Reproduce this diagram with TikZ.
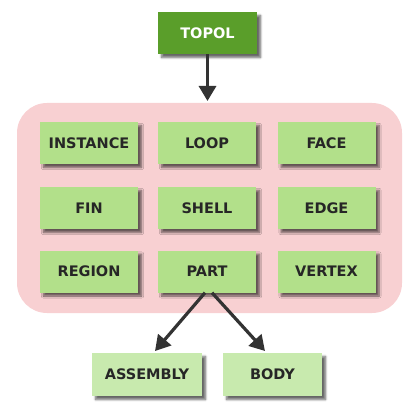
\documentclass[tikz,border=0pt]{standalone}
\usepackage{fontspec}
\setmainfont{DejaVu Sans}
\usetikzlibrary{arrows.meta,shadows.blur}
\definecolor{boxgreen}{HTML}{B2E08A}
\definecolor{palegreen}{HTML}{C8EAAE}
\definecolor{darkgreen}{HTML}{5A9E2A}
\definecolor{pinkbg}{HTML}{F8D0D2}
\definecolor{arrowgray}{HTML}{333333}
\tikzset{
  item/.style={fill=boxgreen, minimum width=98pt, minimum height=42pt, inner sep=0pt,
    font=\fontsize{14.5pt}{15pt}\selectfont\bfseries, text=black!85,
    blur shadow={shadow xshift=3.5pt, shadow yshift=-3.5pt, shadow blur steps=6, shadow opacity=60}},
  outitem/.style={item, fill=palegreen},
  topitem/.style={item, fill=darkgreen, text=white},
  link/.style={draw=arrowgray, line width=3.2pt, -{Triangle[width=17pt,length=15pt]}}
}
\begin{document}
\begin{tikzpicture}[x=1pt,y=-1pt]
\useasboundingbox (0,0) rectangle (419,419);
\fill[pinkbg, rounded corners=30pt] (17,103) rectangle (402,313);
\node[topitem, minimum width=99pt] (topol) at (207.5,33) {TOPOL};
\node[item] (instance) at (89,143) {INSTANCE};
\node[item] (loop) at (207,143) {LOOP};
\node[item] (face) at (326.5,143) {FACE};
\node[item] (fin) at (89,208) {FIN};
\node[item] (shell) at (207,208) {SHELL};
\node[item] (edge) at (326.5,208) {EDGE};
\node[item] (region) at (89,271.5) {REGION};
\node[item] (part) at (207,271.5) {PART};
\node[item] (vertex) at (326.5,271.5) {VERTEX};
\node[outitem, minimum width=110pt, minimum height=43pt] (assembly) at (147,374.5) {ASSEMBLY};
\node[outitem, minimum width=99pt, minimum height=43pt] (body) at (272.5,374.5) {BODY};
\draw[link] (topol.south) -- (207.5,101);
\draw[link] ([xshift=-2pt]part.south) -- (155,351);
\draw[link] ([xshift=5pt]part.south) -- (265,351);
\end{tikzpicture}
\end{document}
